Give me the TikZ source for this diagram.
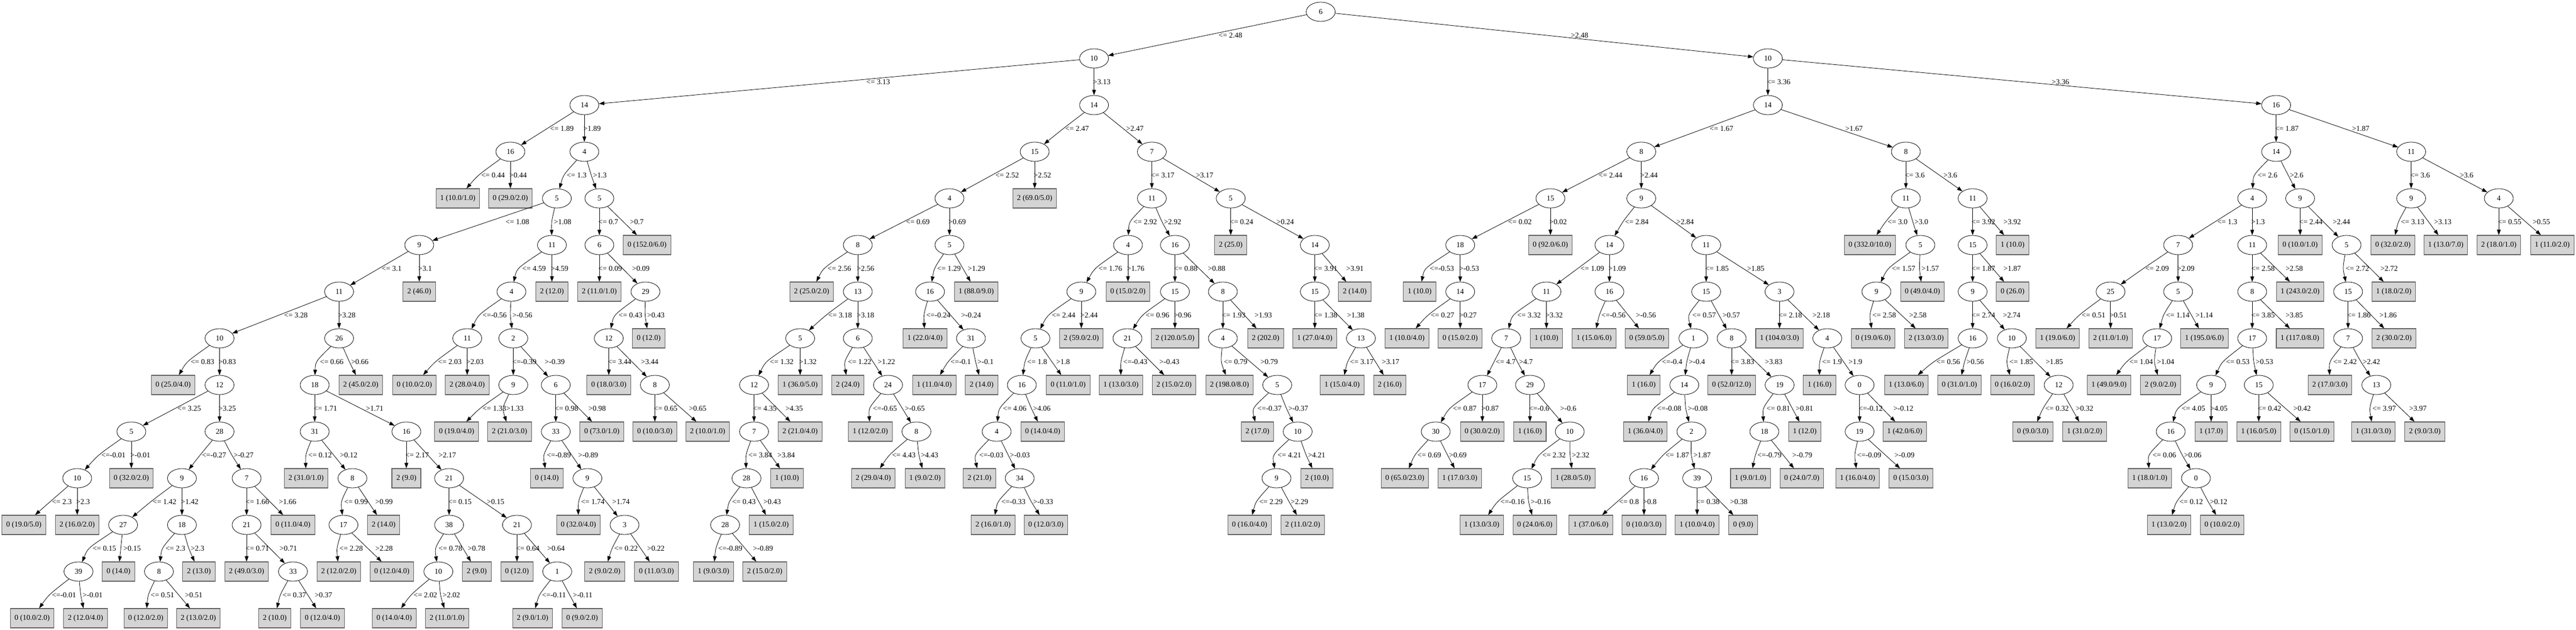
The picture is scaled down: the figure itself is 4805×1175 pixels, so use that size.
\documentclass[tikz,border=0pt]{standalone}
\usepackage{fontspec}
\setmainfont{Liberation Serif}
\usetikzlibrary{arrows.meta,shapes.geometric}
\newcommand\tfont{\fontsize{14}{16}\selectfont}
\tikzset{
  inode/.style={draw, ellipse, line width=0.8pt, minimum width=54pt, minimum height=36pt, inner sep=0pt, font=\tfont},
  lnode/.style={draw=black!62, fill=black!17, line width=1.1pt, rectangle, minimum width=54pt, minimum height=36pt, inner xsep=8pt, inner ysep=0pt, font=\tfont},
  tlink/.style={line width=0.8pt, -{Triangle[length=10pt,width=7pt]}},
  elabel/.style={anchor=west, inner sep=0pt, font=\tfont}
}
\newcommand\tnode[4]{\node[inode] (#1) at (#2,{1153-87*#3}) {#4};\expandafter\xdef\csname TX#1\endcsname{#2}\expandafter\xdef\csname TL#1\endcsname{#3}}
\newcommand\tleaf[4]{\node[lnode] (#1) at (#2,{1153-87*#3}) {#4};\expandafter\xdef\csname TX#1\endcsname{#2}\expandafter\xdef\csname TL#1\endcsname{#3}}
\newcommand\tedge[4]{%
 \pgfmathsetmacro\tpx{\csname TX#1\endcsname}%
 \pgfmathsetmacro\tcx{\csname TX#2\endcsname}%
 \pgfmathsetmacro\tmy{1153-87*\csname TL#1\endcsname-43.5}%
 \pgfmathsetmacro\tmx{0.5*\tpx+0.5*\tcx}%
 \pgfmathsetmacro\tvx{min(\tmx,#3-3)}%
 \pgfmathsetmacro\tcl{\tvx+(\tvx-\tmx)/3}%
 \draw[tlink] (#1) .. controls (\tcl,\tmy) .. (#2);%
 \node[elabel] at (#3,\tmy) {#4};}
\newcommand\tvert[3]{%
 \pgfmathsetmacro\tpx{\csname TX#1\endcsname-2}%
 \pgfmathsetmacro\tmy{1153-87*\csname TL#1\endcsname-43.5}%
 \draw[tlink] (#1) -- (#2);%
 \node[elabel] at (\tpx,\tmy) {#3};}
\begin{document}
\begin{tikzpicture}[x=1pt,y=1pt]
\useasboundingbox (0,0) rectangle (4805,1175);
% level 0-3
\tnode{A}{2463.5}{0}{6}
\tnode{B}{2040.7}{1}{10}
\tnode{C}{3297.6}{1}{10}
\tnode{D}{1090}{2}{14}
\tnode{E}{2040.7}{2}{14}
\tnode{F}{3297.6}{2}{14}
\tnode{G}{4245.6}{2}{16}
\tnode{H}{952}{3}{16}
\tnode{I}{1090}{3}{4}
\tnode{J}{1930}{3}{15}
\tnode{K}{2148.5}{3}{7}
\tnode{L}{3061.5}{3}{8}
\tnode{M}{3555}{3}{8}
\tnode{N}{4245.6}{3}{14}
\tnode{O}{4497.5}{3}{11}
% level 4
\tleaf{l1}{854}{4}{1 (10.0/1.0)}
\tleaf{l2}{952}{4}{0 (29.0/2.0)}
\tnode{P}{1038.7}{4}{5}
\tnode{Q}{1118}{4}{5}
\tnode{R}{1771}{4}{4}
\tleaf{l3}{1930}{4}{2 (69.0/5.0)}
\tnode{S}{2148.5}{4}{11}
\tnode{T}{2295.7}{4}{5}
\tnode{U}{2892}{4}{15}
\tnode{V}{3061.5}{4}{9}
\tnode{W}{3555}{4}{11}
\tnode{X}{3679.5}{4}{11}
\tnode{Y}{4201}{4}{4}
\tnode{Z}{4290.4}{4}{9}
\tnode{AA}{4497.5}{4}{9}
\tnode{AB}{4661}{4}{4}
% level 5
\tnode{AC}{782}{5}{9}
\tnode{AD}{1029.5}{5}{11}
\tnode{AE}{1118}{5}{6}
\tleaf{l4}{1207}{5}{0 (152.0/6.0)}
\tnode{AF}{1600}{5}{8}
\tnode{AG}{1771}{5}{5}
\tnode{AH}{2104}{5}{4}
\tnode{AI}{2191.6}{5}{16}
\tleaf{l5}{2295.7}{5}{2 (25.0)}
\tnode{AJ}{2452.5}{5}{14}
\tnode{AK}{2723.7}{5}{18}
\tleaf{l6}{2892}{5}{0 (92.0/6.0)}
\tnode{AL}{3002}{5}{14}
\tnode{AM}{3182.5}{5}{11}
\tleaf{l7}{3488}{5}{0 (332.0/10.0)}
\tnode{AN}{3582}{5}{5}
\tnode{AO}{3679.5}{5}{15}
\tleaf{l8}{3754}{5}{1 (10.0)}
\tnode{AP}{4062.8}{5}{7}
\tnode{AQ}{4201}{5}{11}
\tleaf{l9}{4290.4}{5}{0 (10.0/1.0)}
\tnode{AR}{4377}{5}{5}
\tleaf{l10}{4463.5}{5}{0 (32.0/2.0)}
\tleaf{l11}{4562}{5}{1 (13.0/7.0)}
\tleaf{l12}{4661}{5}{2 (18.0/1.0)}
\tleaf{l13}{4760.7}{5}{1 (11.0/2.0)}
% level 6
\tnode{AS}{632.5}{6}{11}
\tleaf{l14}{782}{6}{2 (46.0)}
\tnode{AT}{954}{6}{4}
\tleaf{l15}{1029.5}{6}{2 (12.0)}
\tleaf{l16}{1118}{6}{2 (11.0/1.0)}
\tnode{AU}{1204}{6}{29}
\tleaf{l17}{1514}{6}{2 (25.0/2.0)}
\tnode{AV}{1600}{6}{13}
\tnode{AW}{1734.8}{6}{16}
\tleaf{l18}{1821}{6}{1 (88.0/9.0)}
\tnode{AX}{2017}{6}{9}
\tleaf{l19}{2104}{6}{0 (15.0/2.0)}
\tnode{AY}{2191.6}{6}{15}
\tnode{AZ}{2281}{6}{8}
\tnode{BA}{2452.5}{6}{15}
\tleaf{l20}{2527}{6}{2 (14.0)}
\tleaf{l21}{2648}{6}{1 (10.0)}
\tnode{BB}{2723.7}{6}{14}
\tnode{BC}{2884.6}{6}{11}
\tnode{BD}{3002}{6}{16}
\tnode{BE}{3182.5}{6}{15}
\tnode{BF}{3319.3}{6}{3}
\tnode{BG}{3500}{6}{9}
\tleaf{l22}{3586}{6}{0 (49.0/4.0)}
\tnode{BH}{3679.5}{6}{9}
\tleaf{l23}{3754}{6}{0 (26.0)}
\tnode{BI}{3936.8}{6}{25}
\tnode{BJ}{4062.8}{6}{5}
\tnode{BK}{4201}{6}{8}
\tleaf{l24}{4290.4}{6}{1 (243.0/2.0)}
\tnode{BL}{4379.8}{6}{15}
\tleaf{l25}{4465}{6}{1 (18.0/2.0)}
% level 7
\tnode{BM}{409.5}{7}{10}
\tnode{BN}{632.5}{7}{26}
\tnode{BO}{871.5}{7}{11}
\tnode{BP}{957.4}{7}{2}
\tnode{BQ}{1135.6}{7}{12}
\tleaf{l26}{1210}{7}{0 (12.0)}
\tnode{BR}{1492.5}{7}{5}
\tnode{BS}{1600}{7}{6}
\tleaf{l27}{1725.4}{7}{1 (22.0/4.0)}
\tnode{BT}{1811}{7}{31}
\tnode{BU}{1931.4}{7}{5}
\tleaf{l28}{2017}{7}{2 (59.0/2.0)}
\tnode{BV}{2103}{7}{21}
\tleaf{l29}{2191.6}{7}{2 (120.0/5.0)}
\tnode{BW}{2281}{7}{4}
\tleaf{l30}{2360.7}{7}{2 (202.0)}
\tleaf{l31}{2452.5}{7}{1 (27.0/4.0)}
\tnode{BX}{2538.5}{7}{13}
\tleaf{l32}{2624.4}{7}{1 (10.0/4.0)}
\tleaf{l33}{2723.7}{7}{0 (15.0/2.0)}
\tnode{BY}{2809.5}{7}{7}
\tleaf{l34}{2884.6}{7}{1 (10.0)}
\tleaf{l35}{2973.5}{7}{1 (15.0/6.0)}
\tleaf{l36}{3072}{7}{0 (59.0/5.0)}
\tnode{BZ}{3158.6}{7}{1}
\tnode{CA}{3230}{7}{8}
\tleaf{l37}{3319.3}{7}{1 (104.0/3.0)}
\tnode{CB}{3408.4}{7}{4}
\tleaf{l38}{3494}{7}{0 (19.0/6.0)}
\tleaf{l39}{3593}{7}{2 (13.0/3.0)}
\tnode{CC}{3679.5}{7}{16}
\tnode{CD}{3752.7}{7}{10}
\tleaf{l40}{3838}{7}{1 (19.0/6.0)}
\tleaf{l41}{3936.8}{7}{2 (11.0/1.0)}
\tnode{CE}{4023.8}{7}{17}
\tleaf{l42}{4112}{7}{1 (195.0/6.0)}
\tnode{CF}{4201}{7}{17}
\tleaf{l43}{4290}{7}{1 (117.0/8.0)}
\tnode{CG}{4379.8}{7}{7}
\tleaf{l44}{4465.5}{7}{2 (30.0/2.0)}
% level 8
\tleaf{l45}{323}{8}{0 (25.0/4.0)}
\tnode{CH}{409.5}{8}{12}
\tnode{CI}{587}{8}{18}
\tleaf{l46}{673}{8}{2 (45.0/2.0)}
\tleaf{l47}{773}{8}{0 (10.0/2.0)}
\tleaf{l48}{871.5}{8}{2 (28.0/4.0)}
\tnode{CJ}{957.4}{8}{9}
\tnode{CK}{1036.7}{8}{6}
\tleaf{l49}{1135.6}{8}{0 (18.0/3.0)}
\tnode{CL}{1221.5}{8}{8}
\tnode{CM}{1406.5}{8}{12}
\tleaf{l50}{1492.5}{8}{1 (36.0/5.0)}
\tleaf{l51}{1581.4}{8}{2 (24.0)}
\tnode{CN}{1656.4}{8}{24}
\tleaf{l52}{1742.7}{8}{1 (11.0/4.0)}
\tleaf{l53}{1831}{8}{2 (14.0)}
\tnode{CO}{1906}{8}{16}
\tleaf{l54}{1992.5}{8}{0 (11.0/1.0)}
\tleaf{l55}{2091}{8}{1 (13.0/3.0)}
\tleaf{l56}{2190}{8}{2 (15.0/2.0)}
\tleaf{l57}{2293.5}{8}{2 (198.0/8.0)}
\tnode{CP}{2382.4}{8}{5}
\tleaf{l58}{2503.4}{8}{1 (15.0/4.0)}
\tleaf{l59}{2592.3}{8}{2 (16.0)}
\tnode{CR}{2765}{8}{17}
\tnode{CQ}{2853.8}{8}{29}
\tleaf{l60}{3066}{8}{1 (16.0)}
\tnode{CS}{3141.7}{8}{14}
\tleaf{l61}{3230}{8}{0 (52.0/12.0)}
\tnode{CT}{3319.5}{8}{19}
\tleaf{l62}{3394}{8}{1 (16.0)}
\tnode{CU}{3468.7}{8}{0}
\tleaf{l63}{3556}{8}{1 (13.0/6.0)}
\tleaf{l64}{3655}{8}{0 (31.0/1.0)}
\tleaf{l65}{3754}{8}{0 (16.0/2.0)}
\tnode{CV}{3840}{8}{12}
\tleaf{l66}{3934}{8}{1 (49.0/9.0)}
\tleaf{l67}{4030}{8}{2 (9.0/2.0)}
\tnode{CW}{4124.4}{8}{9}
\tnode{CX}{4213.2}{8}{15}
\tleaf{l68}{4346}{8}{2 (17.0/3.0)}
\tnode{CY}{4432.5}{8}{13}
% level 9
\tnode{CZ}{245}{9}{5}
\tnode{DA}{409.5}{9}{28}
\tnode{DB}{587}{9}{31}
\tnode{DC}{758}{9}{16}
\tleaf{l69}{851.6}{9}{0 (19.0/4.0)}
\tleaf{l70}{950.4}{9}{2 (21.0/3.0)}
\tnode{DD}{1036.7}{9}{33}
\tleaf{l71}{1122.6}{9}{0 (73.0/1.0)}
\tleaf{l72}{1221.5}{9}{0 (10.0/3.0)}
\tleaf{l73}{1320}{9}{2 (10.0/1.0)}
\tnode{DE}{1406.5}{9}{7}
\tleaf{l74}{1492.5}{9}{2 (21.0/4.0)}
\tleaf{l75}{1623.5}{9}{1 (12.0/2.0)}
\tnode{DF}{1709.4}{9}{8}
\tnode{DG}{1859}{9}{4}
\tleaf{l76}{1945}{9}{0 (14.0/4.0)}
\tleaf{l77}{2345.5}{9}{2 (17.0)}
\tnode{DH}{2420.5}{9}{10}
\tnode{DI}{2678}{9}{30}
\tleaf{l78}{2765}{9}{0 (30.0/2.0)}
\tleaf{l79}{2853.8}{9}{1 (16.0)}
\tnode{DJ}{2928}{9}{10}
\tleaf{l80}{3069}{9}{1 (36.0/4.0)}
\tnode{DK}{3155}{9}{2}
\tnode{DL}{3291}{9}{18}
\tleaf{l81}{3366.4}{9}{1 (12.0)}
\tnode{DM}{3468.7}{9}{19}
\tleaf{l82}{3553}{9}{1 (42.0/6.0)}
\tleaf{l83}{3792}{9}{0 (9.0/3.0)}
\tleaf{l84}{3888.5}{9}{1 (31.0/2.0)}
\tnode{DN}{4049}{9}{16}
\tleaf{l85}{4124.4}{9}{1 (17.0)}
\tleaf{l86}{4213.2}{9}{1 (16.0/5.0)}
\tleaf{l87}{4312.4}{9}{0 (15.0/1.0)}
\tleaf{l88}{4427}{9}{1 (31.0/3.0)}
\tleaf{l89}{4523}{9}{2 (9.0/3.0)}
% level 10
\tnode{DO}{144}{10}{10}
\tleaf{l90}{245}{10}{0 (32.0/2.0)}
\tnode{DP}{339.4}{10}{9}
\tnode{DQ}{460}{10}{7}
\tleaf{l91}{571}{10}{2 (31.0/1.0)}
\tnode{DR}{657.4}{10}{8}
\tleaf{l92}{758}{10}{2 (9.0)}
\tnode{DS}{837.7}{10}{21}
\tleaf{l93}{1020}{10}{0 (14.0)}
\tnode{DT}{1095.7}{10}{9}
\tnode{DU}{1392.4}{10}{28}
\tleaf{l94}{1468}{10}{1 (10.0)}
\tleaf{l95}{1629}{10}{2 (29.0/4.0)}
\tleaf{l96}{1725.4}{10}{1 (9.0/2.0)}
\tleaf{l97}{1827}{10}{2 (21.0)}
\tnode{DV}{1902}{10}{34}
\tnode{DW}{2381}{10}{9}
\tleaf{l98}{2456.5}{10}{2 (10.0)}
\tleaf{l99}{2620.5}{10}{0 (65.0/23.0)}
\tleaf{l100}{2723}{10}{1 (17.0/3.0)}
\tnode{DX}{2848.5}{10}{15}
\tleaf{l101}{2934.4}{10}{1 (28.0/5.0)}
\tnode{DY}{3066.5}{10}{16}
\tnode{DZ}{3165.6}{10}{39}
\tleaf{l102}{3265.3}{10}{1 (9.0/1.0)}
\tleaf{l103}{3361}{10}{0 (24.0/7.0)}
\tleaf{l104}{3465}{10}{1 (16.0/4.0)}
\tleaf{l105}{3564.5}{10}{0 (15.0/3.0)}
\tleaf{l106}{4010}{10}{1 (18.0/1.0)}
\tnode{EA}{4096}{10}{0}
% level 11
\tleaf{l107}{44.5}{11}{0 (19.0/5.0)}
\tleaf{l108}{144}{11}{2 (16.0/2.0)}
\tnode{EB}{229.6}{11}{27}
\tnode{EC}{339.4}{11}{18}
\tnode{ED}{460}{11}{21}
\tleaf{l109}{546.5}{11}{0 (11.0/4.0)}
\tnode{EE}{640.7}{11}{17}
\tleaf{l110}{715.5}{11}{2 (14.0)}
\tnode{EF}{837.7}{11}{38}
\tnode{EG}{964.3}{11}{21}
\tleaf{l111}{1079}{11}{0 (32.0/4.0)}
\tnode{EH}{1165}{11}{3}
\tnode{EI}{1352.5}{11}{28}
\tleaf{l112}{1438.5}{11}{1 (15.0/2.0)}
\tleaf{l113}{1852.5}{11}{2 (16.0/1.0)}
\tleaf{l114}{1951}{11}{0 (12.0/3.0)}
\tleaf{l115}{2331}{11}{0 (16.0/4.0)}
\tleaf{l116}{2430}{11}{2 (11.0/2.0)}
\tleaf{l117}{2764}{11}{1 (13.0/3.0)}
\tleaf{l118}{2863}{11}{0 (24.0/6.0)}
\tleaf{l119}{2967.4}{11}{1 (37.0/6.0)}
\tleaf{l120}{3066.5}{11}{0 (10.0/3.0)}
\tleaf{l121}{3165.6}{11}{1 (10.0/4.0)}
\tleaf{l122}{3251.5}{11}{0 (9.0)}
\tleaf{l123}{4046}{11}{1 (13.0/2.0)}
\tleaf{l124}{4145}{11}{0 (10.0/2.0)}
% level 12
\tnode{EJ}{146.4}{12}{39}
\tleaf{l125}{221}{12}{0 (14.0)}
\tnode{EK}{296.5}{12}{8}
\tleaf{l126}{371}{12}{2 (13.0)}
\tleaf{l127}{460}{12}{2 (49.0/3.0)}
\tnode{EL}{546.5}{12}{33}
\tleaf{l128}{632}{12}{2 (12.0/2.0)}
\tleaf{l129}{731}{12}{0 (12.0/4.0)}
\tnode{EM}{817.7}{12}{10}
\tleaf{l130}{889.3}{12}{2 (9.0)}
\tleaf{l131}{964.3}{12}{0 (12.0)}
\tnode{EN}{1039.4}{12}{1}
\tleaf{l132}{1128}{12}{2 (9.0/2.0)}
\tleaf{l133}{1224.5}{12}{0 (11.0/3.0)}
\tleaf{l134}{1331}{12}{1 (9.0/3.0)}
\tleaf{l135}{1426.5}{12}{2 (15.0/2.0)}
% level 13
\tleaf{l136}{60}{13}{0 (10.0/2.0)}
\tleaf{l137}{159.5}{13}{2 (12.0/4.0)}
\tleaf{l138}{272}{13}{0 (12.0/2.0)}
\tleaf{l139}{370}{13}{2 (13.0/2.0)}
\tleaf{l140}{512.5}{13}{2 (10.0)}
\tleaf{l141}{601.5}{13}{0 (12.0/4.0)}
\tleaf{l142}{735.3}{13}{0 (14.0/4.0)}
\tleaf{l143}{834}{13}{2 (11.0/1.0)}
\tleaf{l144}{993.4}{13}{2 (9.0/1.0)}
\tleaf{l145}{1085.8}{13}{0 (9.0/2.0)}
% edges
\tedge{A}{B}{2273}{<= 2.48}
\tedge{A}{C}{2930}{>2.48}
\tedge{B}{D}{1616}{<= 3.13}
\tvert{B}{E}{>3.13}
\tvert{C}{F}{<= 3.36}
\tedge{C}{G}{3827}{>3.36}
\tedge{D}{H}{1026}{<= 1.89}
\tvert{D}{I}{>1.89}
\tedge{E}{J}{1987}{<= 2.47}
\tedge{E}{K}{2100.5}{>2.47}
\tedge{F}{L}{3189}{<= 1.67}
\tedge{F}{M}{3442}{>1.67}
\tvert{G}{N}{<= 1.87}
\tedge{G}{O}{4387}{>1.87}
\tedge{H}{l1}{897.6}{<= 0.44}
\tvert{H}{l2}{>0.44}
\tedge{I}{P}{1057}{<= 1.3}
\tedge{I}{Q}{1106}{>1.3}
\tedge{J}{R}{1856.6}{<= 2.52}
\tvert{J}{l3}{>2.52}
\tvert{K}{S}{<= 3.17}
\tedge{K}{T}{2230.6}{>3.17}
\tedge{L}{U}{2982}{<= 2.44}
\tvert{L}{V}{>2.44}
\tvert{M}{W}{<= 3.6}
\tedge{M}{X}{3625}{>3.6}
\tedge{N}{Y}{4211}{<= 2.6}
\tedge{N}{Z}{4271}{>2.6}
\tvert{O}{AA}{<= 3.6}
\tedge{O}{AB}{4588}{>3.6}
\tedge{P}{AC}{943}{<= 1.08}
\tedge{P}{AD}{1033}{>1.08}
\tvert{Q}{AE}{<= 0.7}
\tedge{Q}{l4}{1175}{>0.7}
\tedge{R}{AF}{1690}{<= 0.69}
\tvert{R}{AG}{>0.69}
\tedge{S}{AH}{2114}{<= 2.92}
\tedge{S}{AI}{2170.8}{>2.92}
\tvert{T}{l5}{<= 0.24}
\tedge{T}{AJ}{2381}{>0.24}
\tedge{U}{AK}{2813}{<= 0.02}
\tvert{U}{l6}{>0.02}
\tedge{V}{AL}{3031}{<= 2.84}
\tedge{V}{AM}{3127}{>2.84}
\tedge{W}{l7}{3521}{<= 3.0}
\tedge{W}{AN}{3571}{>3.0}
\tvert{X}{AO}{<= 3.92}
\tedge{X}{l8}{3737}{>3.92}
\tedge{Y}{AP}{4136}{<= 1.3}
\tvert{Y}{AQ}{>1.3}
\tvert{Z}{l9}{<= 2.44}
\tedge{Z}{AR}{4351}{>2.44}
\tedge{AA}{l10}{4478}{<= 3.13}
\tedge{AA}{l11}{4540}{>3.13}
\tvert{AB}{l12}{<= 0.55}
\tedge{AB}{l13}{4724}{>0.55}
\tedge{AC}{AS}{712}{<= 3.1}
\tvert{AC}{l14}{>3.1}
\tedge{AD}{AT}{974}{<= 4.59}
\tvert{AD}{l15}{>4.59}
\tvert{AE}{l16}{<= 0.09}
\tedge{AE}{AU}{1179}{>0.09}
\tedge{AF}{l17}{1543.5}{<= 2.56}
\tvert{AF}{AV}{>2.56}
\tedge{AG}{AW}{1748}{<= 1.29}
\tedge{AG}{l18}{1805}{>1.29}
\tedge{AH}{AX}{2049}{<= 1.76}
\tvert{AH}{l19}{>1.76}
\tvert{AI}{AY}{<= 0.88}
\tedge{AI}{AZ}{2253}{>0.88}
\tvert{AJ}{BA}{<= 3.91}
\tedge{AJ}{l20}{2511}{>3.91}
\tedge{AK}{l21}{2667}{<=-0.53}
\tvert{AK}{BB}{>-0.53}
\tedge{AL}{BC}{2948}{<= 1.09}
\tvert{AL}{BD}{>1.09}
\tvert{AM}{BE}{<= 1.85}
\tedge{AM}{BF}{3258.6}{>1.85}
\tedge{AN}{BG}{3528.6}{<= 1.57}
\tedge{AN}{l22}{3584}{>1.57}
\tvert{AO}{BH}{<= 1.87}
\tedge{AO}{l23}{3737}{>1.87}
\tedge{AP}{BI}{4001.6}{<= 2.09}
\tvert{AP}{BJ}{>2.09}
\tvert{AQ}{BK}{<= 2.58}
\tedge{AQ}{l24}{4263}{>2.58}
\tedge{AR}{BL}{4375}{<= 2.72}
\tedge{AR}{l25}{4440}{>2.72}
\tedge{AS}{BM}{530}{<= 3.28}
\tvert{AS}{BN}{>3.28}
\tedge{AT}{BO}{900}{<=-0.56}
\tedge{AT}{BP}{955.6}{>-0.56}
\tedge{AU}{BQ}{1154}{<= 0.43}
\tedge{AU}{l26}{1207}{>0.43}
\tedge{AV}{BR}{1545}{<= 3.18}
\tvert{AV}{BS}{>3.18}
\tedge{AW}{l27}{1727.6}{<=-0.24}
\tedge{AW}{BT}{1792.6}{>-0.24}
\tedge{AX}{BU}{1961.8}{<= 2.44}
\tvert{AX}{l28}{>2.44}
\tedge{AY}{BV}{2137}{<= 0.96}
\tvert{AY}{l29}{>0.96}
\tvert{AZ}{BW}{<= 1.93}
\tedge{AZ}{l30}{2340}{>1.93}
\tvert{BA}{l31}{<= 1.38}
\tedge{BA}{BX}{2512.5}{>1.38}
\tedge{BB}{l32}{2668.6}{<= 0.27}
\tvert{BB}{l33}{>0.27}
\tedge{BC}{BY}{2830}{<= 3.32}
\tvert{BC}{l34}{>3.32}
\tedge{BD}{l35}{2987}{<=-0.56}
\tedge{BD}{l36}{3051.5}{>-0.56}
\tedge{BE}{BZ}{3156.5}{<= 0.57}
\tedge{BE}{CA}{3213}{>0.57}
\tvert{BF}{l37}{<= 2.18}
\tedge{BF}{CB}{3380.7}{>2.18}
\tedge{BG}{l38}{3492.5}{<= 2.58}
\tedge{BG}{l39}{3561}{>2.58}
\tvert{BH}{CC}{<= 2.74}
\tedge{BH}{CD}{3736}{>2.74}
\tedge{BI}{l40}{3883}{<= 0.51}
\tvert{BI}{l41}{>0.51}
\tedge{BJ}{CE}{4040}{<= 1.14}
\tedge{BJ}{l42}{4095}{>1.14}
\tvert{BK}{CF}{<= 3.85}
\tedge{BK}{l43}{4263}{>3.85}
\tvert{BL}{CG}{<= 1.86}
\tedge{BL}{l44}{4438}{>1.86}
\tedge{BM}{l45}{355.6}{<= 0.83}
\tvert{BM}{CH}{>0.83}
\tedge{BN}{CI}{596.7}{<= 0.66}
\tedge{BN}{l46}{654.8}{>0.66}
\tedge{BO}{l47}{817}{<= 2.03}
\tvert{BO}{l48}{>2.03}
\tvert{BP}{CJ}{<=-0.39}
\tedge{BP}{CK}{1016}{>-0.39}
\tvert{BQ}{l49}{<= 3.44}
\tedge{BQ}{CL}{1195.5}{>3.44}
\tedge{BR}{CM}{1436}{<= 1.32}
\tvert{BR}{l50}{>1.32}
\tedge{BS}{l51}{1581.4}{<= 1.22}
\tedge{BS}{CN}{1637}{>1.22}
\tedge{BT}{l52}{1773}{<=-0.1}
\tedge{BT}{l53}{1823}{>-0.1}
\tedge{BU}{CO}{1916}{<= 1.8}
\tedge{BU}{l54}{1970}{>1.8}
\tedge{BV}{l55}{2095}{<=-0.43}
\tedge{BV}{l56}{2162.5}{>-0.43}
\tedge{BW}{l57}{2282.6}{<= 0.79}
\tedge{BW}{CP}{2351}{>0.79}
\tedge{BX}{l58}{2518}{<= 3.17}
\tedge{BX}{l59}{2577.5}{>3.17}
\tedge{BY}{CR}{2790}{<= 4.7}
\tedge{BY}{CQ}{2833.4}{>4.7}
\tedge{BZ}{l60}{3100}{<=-0.4}
\tedge{BZ}{CS}{3150}{>-0.4}
\tvert{CA}{l61}{<= 3.83}
\tedge{CA}{CT}{3292}{>3.83}
\tedge{CB}{l62}{3398.5}{<= 1.9}
\tedge{CB}{CU}{3448}{>1.9}
\tedge{CC}{l63}{3612}{<= 0.56}
\tedge{CC}{l64}{3668}{>0.56}
\tedge{CD}{l65}{3748}{<= 1.85}
\tedge{CD}{CV}{3815.6}{>1.85}
\tedge{CE}{l66}{3971.8}{<= 1.04}
\tedge{CE}{l67}{4023}{>1.04}
\tedge{CF}{CW}{4152}{<= 0.53}
\tedge{CF}{CX}{4207.4}{>0.53}
\tedge{CG}{l68}{4352}{<= 2.42}
\tedge{CG}{CY}{4407}{>2.42}
\tedge{CH}{CZ}{331}{<= 3.25}
\tvert{CH}{DA}{>3.25}
\tvert{CI}{DB}{<= 1.71}
\tedge{CI}{DC}{682.5}{>1.71}
\tedge{CJ}{l69}{900}{<= 1.33}
\tedge{CJ}{l70}{944}{>1.33}
\tvert{CK}{DD}{<= 0.98}
\tedge{CK}{l71}{1097.5}{>0.98}
\tvert{CL}{l72}{<= 0.65}
\tedge{CL}{l73}{1285}{>0.65}
\tvert{CM}{DE}{<= 4.35}
\tedge{CM}{l74}{1465}{>4.35}
\tedge{CN}{l75}{1628}{<=-0.65}
\tedge{CN}{DF}{1687.7}{>-0.65}
\tedge{CO}{DG}{1870.7}{<= 4.06}
\tedge{CO}{l76}{1927}{>4.06}
\tedge{CP}{l77}{2345.5}{<=-0.37}
\tedge{CP}{DH}{2402.8}{>-0.37}
\tedge{CR}{DI}{2710}{<= 0.87}
\tvert{CR}{l78}{>0.87}
\tvert{CQ}{l79}{<=-0.6}
\tedge{CQ}{DJ}{2910}{>-0.6}
\tedge{CS}{l80}{3091}{<=-0.08}
\tedge{CS}{DK}{3148}{>-0.08}
\tedge{CT}{DL}{3295}{<= 0.81}
\tedge{CT}{l81}{3349.5}{>0.81}
\tvert{CU}{DM}{<=-0.12}
\tedge{CU}{l82}{3531.6}{>-0.12}
\tedge{CV}{l83}{3814.8}{<= 0.32}
\tedge{CV}{l84}{3872}{>0.32}
\tedge{CW}{DN}{4069.4}{<= 4.05}
\tvert{CW}{l85}{>4.05}
\tvert{CX}{l86}{<= 0.42}
\tedge{CX}{l87}{4277.7}{>0.42}
\tedge{CY}{l88}{4425}{<= 3.97}
\tedge{CY}{l89}{4493.6}{>3.97}
\tedge{CZ}{DO}{189}{<=-0.01}
\tvert{CZ}{l90}{>-0.01}
\tedge{DA}{DP}{376.6}{<=-0.27}
\tedge{DA}{DQ}{435.7}{>-0.27}
\tedge{DB}{l91}{575}{<= 0.12}
\tedge{DB}{DR}{634}{>0.12}
\tvert{DC}{l92}{<= 2.17}
\tedge{DC}{DS}{818}{>2.17}
\tedge{DD}{l93}{1019.8}{<=-0.89}
\tedge{DD}{DT}{1078.4}{>-0.89}
\tedge{DE}{DU}{1396}{<= 3.84}
\tedge{DE}{l94}{1450}{>3.84}
\tedge{DF}{l95}{1663.8}{<= 4.43}
\tedge{DF}{l96}{1717.6}{>4.43}
\tedge{DG}{l97}{1826.4}{<=-0.03}
\tedge{DG}{DV}{1883.7}{>-0.03}
\tedge{DH}{DW}{2383}{<= 4.21}
\tedge{DH}{l98}{2439.6}{>4.21}
\tedge{DI}{l99}{2644}{<= 0.69}
\tedge{DI}{l100}{2703}{>0.69}
\tedge{DJ}{DX}{2876.7}{<= 2.32}
\tedge{DJ}{l101}{2932}{>2.32}
\tedge{DK}{DY}{3106.6}{<= 1.87}
\tedge{DK}{DZ}{3158.6}{>1.87}
\tedge{DL}{l102}{3278}{<=-0.79}
\tedge{DL}{l103}{3343}{>-0.79}
\tedge{DM}{l104}{3464}{<=-0.09}
\tedge{DM}{l105}{3533.7}{>-0.09}
\tedge{DN}{l106}{4015}{<= 0.06}
\tedge{DN}{EA}{4073.7}{>0.06}
\tedge{DO}{l107}{96.8}{<= 2.3}
\tvert{DO}{l108}{>2.3}
\tedge{DP}{EB}{285}{<= 1.42}
\tvert{DP}{EC}{>1.42}
\tvert{DQ}{ED}{<= 1.66}
\tedge{DQ}{l109}{520}{>1.66}
\tedge{DR}{EE}{642}{<= 0.99}
\tedge{DR}{l110}{700}{>0.99}
\tvert{DS}{EF}{<= 0.15}
\tedge{DS}{EG}{908}{>0.15}
\tedge{DT}{l111}{1083.6}{<= 1.74}
\tedge{DT}{EH}{1142}{>1.74}
\tedge{DU}{EI}{1365.5}{<= 0.43}
\tedge{DU}{l112}{1424}{>0.43}
\tedge{DV}{l113}{1867.6}{<=-0.33}
\tedge{DV}{l114}{1927}{>-0.33}
\tedge{DW}{l115}{2348.6}{<= 2.29}
\tedge{DW}{l116}{2407.5}{>2.29}
\tedge{DX}{l117}{2798.7}{<=-0.16}
\tedge{DX}{l118}{2855}{>-0.16}
\tedge{DY}{l119}{3020}{<= 0.8}
\tvert{DY}{l120}{>0.8}
\tvert{DZ}{l121}{<= 0.38}
\tedge{DZ}{l122}{3227}{>0.38}
\tedge{EA}{l123}{4065}{<= 0.12}
\tedge{EA}{l124}{4122}{>0.12}
\tedge{EB}{EJ}{172.6}{<= 0.15}
\tedge{EB}{l125}{230}{>0.15}
\tedge{EC}{EK}{308.6}{<= 2.3}
\tedge{EC}{l126}{355.6}{>2.3}
\tvert{ED}{l127}{<= 0.71}
\tedge{ED}{EL}{521.4}{>0.71}
\tedge{EE}{l128}{633}{<= 2.28}
\tedge{EE}{l129}{700}{>2.28}
\tedge{EF}{EM}{818}{<= 0.78}
\tedge{EF}{l130}{872.4}{>0.78}
\tvert{EG}{l131}{<= 0.64}
\tedge{EG}{EN}{1020.7}{>0.64}
\tedge{EH}{l132}{1145.6}{<= 0.22}
\tedge{EH}{l133}{1207}{>0.22}
\tedge{EI}{l134}{1339.5}{<=-0.89}
\tedge{EI}{l135}{1404.5}{>-0.89}
\tedge{EJ}{l136}{96.8}{<=-0.01}
\tedge{EJ}{l137}{154}{>-0.01}
\tedge{EK}{l138}{281}{<= 0.51}
\tedge{EK}{l139}{345}{>0.51}
\tedge{EL}{l140}{527}{<= 0.37}
\tedge{EL}{l141}{587}{>0.37}
\tedge{EM}{l142}{771.4}{<= 2.02}
\tedge{EM}{l143}{825.5}{>2.02}
\tedge{EN}{l144}{1011}{<=-0.11}
\tedge{EN}{l145}{1068.4}{>-0.11}
\end{tikzpicture}
\end{document}
